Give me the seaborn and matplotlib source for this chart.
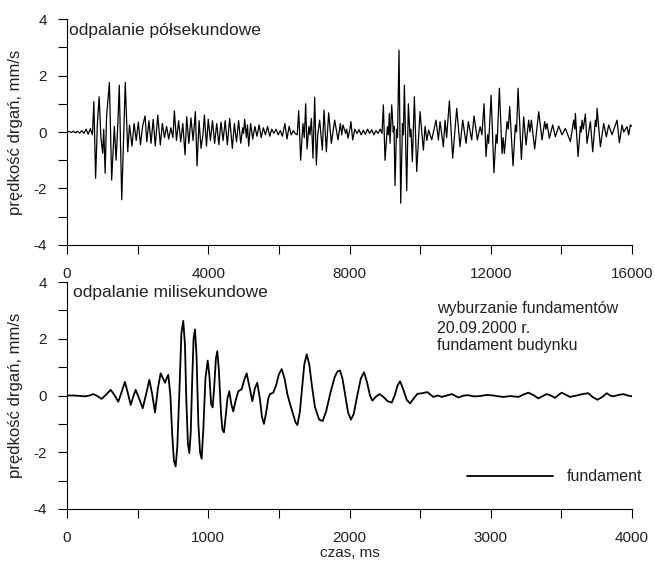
import matplotlib
matplotlib.use("Agg")
import matplotlib.pyplot as plt
from matplotlib.ticker import MultipleLocator
import seaborn as sns

# half-second firing, time in ms and velocity in mm/s
czas_pol = [0, 60, 120, 180, 240, 300, 360, 420, 480, 540, 600, 660, 720,
            760, 810, 860, 910, 960, 1010, 1040, 1080, 1120, 1200, 1265, 1340, 1390,
            1440, 1480, 1550, 1650, 1720, 1770, 1840,
            1900, 1960, 2020, 2080, 2140, 2210, 2260, 2320, 2380, 2440, 2500, 2570,
            2643, 2700, 2760, 2820, 2880, 2940, 3000, 3040, 3100, 3160, 3220, 3280,
            3342, 3390, 3450, 3510, 3570, 3635, 3682, 3740, 3795, 3850, 3890, 3950,
            4000, 4060,
            4120, 4180, 4240, 4300, 4360, 4420, 4480, 4540, 4607, 4682, 4740, 4800,
            4860, 4920, 4975, 5000, 5031, 5080, 5110, 5145, 5200,
            5260, 5320, 5380, 5440, 5500, 5560, 5620, 5680, 5740, 5800, 5860, 5920,
            5980, 6040, 6100, 6170, 6230, 6290, 6350, 6410, 6460, 6520,
            6561, 6617, 6680, 6720, 6759, 6797, 6850, 6880, 6920, 6967, 7014, 7061,
            7100, 7155, 7231, 7278, 7344, 7410, 7486, 7580, 7675, 7740, 7780, 7816,
            7890, 7920, 7958, 8010, 8040, 8090,
            8150, 8210, 8270, 8330, 8390, 8450, 8510, 8570, 8630, 8690, 8750, 8810,
            8870, 8920, 8959, 9006, 9072, 9100, 9129, 9148, 9195, 9240, 9260, 9289,
            9330, 9360, 9402, 9450, 9500, 9525, 9554, 9620, 9667, 9714, 9740, 9780,
            9837, 9903, 9997, 10092, 10140, 10190, 10240, 10328, 10450, 10517, 10564,
            10658, 10705, 10750, 10828, 10922, 11036, 11130, 11206, 11300, 11366,
            11460, 11527, 11621, 11700, 11750, 11810, 11866, 11910, 11940, 12010,
            12090, 12150, 12180, 12244, 12319, 12350, 12385, 12461, 12495, 12536,
            12631, 12697, 12730, 12773, 12867, 12933, 12999, 13074, 13110, 13150,
            13244, 13358, 13452, 13527, 13560, 13594, 13660, 13754, 13830, 13924,
            14018, 14113, 14254, 14349, 14380, 14396, 14472, 14538, 14560, 14585,
            14620, 14679, 14726, 14821, 14887, 14962, 14990, 15010, 15104, 15198,
            15274, 15340, 15434, 15576, 15642, 15718, 15765, 15859, 15906, 15953,
            16000]
v_pol = [0.0, 0.02, -0.02, 0.03, -0.03, 0.02, -0.04, 0.05, -0.05, 0.1, -0.08, 0.12, -0.1,
         1.07, -1.64, 0.3, 1.25, -0.2, -0.75, 0.1, -1.46, 0.54, 1.75, -1.7, 0.2, -1.0,
         0.3, 1.66, -2.4, 1.75, -0.7, 0.25, -0.5,
         0.3, -0.3, 0.35, -0.45, 0.2, 0.57, -0.35, 0.4, -0.4, 0.45, -0.5, 0.6,
         -0.46, 0.3, -0.2, 0.2, -0.25, 0.15, -0.2, 0.75, -0.3, 0.4, -0.35, 0.3,
         -0.81, 0.54, -0.4, 0.5, -0.3, 0.72, -1.2, 0.4, -0.58, -0.1, 0.6, -0.5,
         0.45, -0.3,
         0.4, -0.4, 0.3, -0.45, 0.35, -0.3, 0.4, -0.45, 0.48, -0.58, 0.3, -0.35,
         0.4, -0.4, 0.15, -0.05, 0.45, -0.2, 0.25, -0.5, 0.3,
         -0.25, 0.2, -0.15, 0.25, -0.2, 0.15, -0.1, 0.2, -0.15, 0.1, -0.05, 0.1,
         -0.1, 0.05, -0.15, 0.3, -0.25, 0.2, -0.1, 0.05, -0.05, -0.1,
         0.75, -1.0, 0.3, -0.2, 1.0, -0.6, 0.2, -0.1, 0.48, -0.93, 1.23, -1.17,
         -0.1, 0.42, -0.64, 0.78, -0.7, 0.68, -0.4, 0.42, -0.28, 0.3, -0.1, 0.25,
         -0.05, 0.1, -0.22, 0.1, 0.37, -0.28,
         0.1, -0.05, 0.08, -0.1, 0.06, -0.08, 0.1, -0.05, 0.08, -0.1, 0.05, -0.05,
         0.1, -0.05, 0.96, -1.0, 0.19, -0.1, 0.66, -0.4, 0.96, 0.0, 0.2, -1.9,
         0.1, -0.2, 2.9, -2.52, 0.3, -0.1, 1.66, -2.08, 1.0, -0.17, 0.1, -1.05,
         1.25, -1.4, 0.72, -0.64, 0.2, -0.3, 0.07, -0.28, 0.42, -0.28, 0.37,
         -0.52, 0.42, -0.2, 1.1, -0.93, 0.84, -0.52, 0.42, -0.4, 0.37,
         -0.28, 0.57, -0.28, 0.19, -0.1, 1.0, -0.87, -0.1, -0.4, 1.3,
         -1.44, -0.1, -0.4, 1.55, -0.76, -0.2, -0.76, 0.37, 0.1, 0.9,
         -1.2, 0.25, 0.0, 1.55, -0.97, 0.54, -0.46, 0.42, 0.0, 0.42,
         -0.6, 0.72, -0.28, 0.37, 0.1, 0.3, -0.22, 0.25, -0.17, 0.21,
         -0.1, 0.13, -0.34, 0.42, 0.1, 0.66, -0.87, 0.19, 0.0, 0.42,
         0.1, 0.64, -0.4, 0.37, -0.7, 0.42, 0.2, 0.84, -0.52, 0.3,
         -0.17, 0.25, -0.1, 0.42, -0.38, 0.25, 0.0, 0.19, -0.1, 0.25,
         0.2]

# millisecond firing
czas_mili = [0, 50, 100, 130, 160, 186, 215, 245, 275, 309, 335, 363, 385, 410, 430,
             451, 468, 486, 510, 536, 560, 583, 603, 623, 645, 663, 680, 694, 705,
             717, 732, 745, 757, 769, 781, 796, 810, 823, 835, 845, 856, 866, 876,
             886, 896, 906, 917, 930, 942, 953, 965, 980, 996, 1008, 1020, 1031,
             1042, 1054, 1064, 1075, 1090, 1100, 1111, 1122, 1136, 1149, 1163, 1177,
             1195, 1213, 1236, 1255, 1272, 1290, 1312, 1330, 1347, 1365, 1380, 1394,
             1410, 1425, 1437, 1460, 1480, 1500, 1520, 1540, 1560, 1579, 1600, 1618,
             1631, 1648, 1665, 1680, 1697, 1715, 1735, 1755, 1785, 1810, 1835, 1865,
             1895, 1915, 1933, 1950, 1970, 1990, 2010, 2030, 2055, 2080, 2103, 2125,
             2145, 2162, 2185, 2212, 2240, 2270, 2299, 2320, 2340, 2358, 2378, 2405,
             2429, 2455, 2481, 2515, 2551, 2594, 2625, 2653, 2690, 2724, 2771, 2810,
             2842, 2880, 2924, 2970, 3019, 3055, 3090, 3140, 3196, 3230, 3266, 3300,
             3337, 3365, 3396, 3425, 3455, 3480, 3502, 3530, 3561, 3600, 3632, 3660,
             3691, 3720, 3755, 3790, 3821, 3845, 3868, 3905, 3939, 3970, 3998]
v_mili = [0.0, 0.0, -0.02, -0.03, 0.0, 0.05, -0.02, -0.12, 0.02, 0.2, 0.02, -0.22,
          0.1, 0.48, 0.1, -0.33, -0.05, 0.2, -0.1, -0.45, 0.05, 0.55, 0.05, -0.6,
          0.3, 0.78, 0.6, 0.45, 0.6, 0.73, 0.0, -1.4, -2.3, -2.5, -1.8, 0.2, 2.2,
          2.63, 1.8, -0.2, -1.7, -2.03, -1.3, 0.5, 2.0, 2.33, 1.4, -1.0, -2.0,
          -2.23, -1.2, 0.6, 1.23, 0.7, -0.3, -0.42, 0.3, 1.3, 1.56, 0.9, -0.6,
          -1.2, -1.3, -0.8, -0.1, 0.15, -0.3, -0.56, -0.15, 0.15, 0.22, 0.55, 0.78,
          0.35, -0.2, 0.25, 0.45, -0.1, -0.75, -1.0, -0.6, -0.1, 0.05, 0.1, 0.35,
          0.75, 0.93, 0.6, 0.05, -0.3, -0.65, -0.95, -1.04, -0.6, 0.3, 1.1, 1.45,
          1.1, 0.3, -0.4, -0.85, -0.9, -0.55, 0.1, 0.65, 0.85, 0.88, 0.6, 0.0,
          -0.6, -0.85, -0.65, 0.0, 0.6, 0.82, 0.45, 0.0, -0.18, -0.05, 0.05, -0.05,
          -0.2, -0.25, 0.0, 0.35, 0.5, 0.25, -0.15, -0.28, -0.1, 0.06, 0.08, 0.12,
          -0.05, 0.0, -0.05, 0.0, 0.05, -0.07, 0.0, 0.01, -0.03, -0.02, 0.02, 0.0,
          -0.03, -0.05, -0.02, -0.05, 0.03, 0.1, 0.02, -0.1, -0.03, 0.05, 0.0,
          -0.08, 0.02, 0.1, 0.03, -0.05, -0.01, 0.03, 0.06, 0.08, -0.05, -0.15,
          -0.05, 0.08, 0.0, -0.03, 0.02, 0.05, 0.0, -0.03]

y_label = "prędkość drgań, mm/s"
text_color = "#222222"

sns.set_style("ticks")
plt.rcParams["font.family"] = ["Liberation Sans", "DejaVu Sans"]
plt.rcParams["axes.unicode_minus"] = False


def style_axis(axis, xmax, xmajor, xminor):
    axis.set_xlim(0, xmax)
    axis.set_ylim(-4, 4)
    axis.xaxis.set_major_locator(MultipleLocator(xmajor))
    axis.xaxis.set_minor_locator(MultipleLocator(xminor))
    axis.yaxis.set_major_locator(MultipleLocator(2))
    axis.yaxis.set_minor_locator(MultipleLocator(1))
    axis.tick_params(which="both", direction="out", length=6.5, width=0.8,
                     color="black", labelcolor=text_color, labelsize=11)
    axis.tick_params(axis="x", pad=9)
    axis.tick_params(axis="y", pad=8)
    sns.despine(ax=axis)
    for side in ("left", "bottom"):
        axis.spines[side].set_linewidth(0.8)
        axis.spines[side].set_color("black")
    axis.set_ylabel(y_label, fontsize=12, color=text_color)
    axis.yaxis.set_label_coords(-0.078, 0.5)


fig = plt.figure(figsize=(6.55, 5.61), dpi=100)
ax_top = fig.add_axes([0.1023, 0.5633, 0.8626, 0.4028])
ax_bot = fig.add_axes([0.1023, 0.0927, 0.8626, 0.4046])

sns.lineplot(x=czas_pol, y=v_pol, color="black", linewidth=0.9, ax=ax_top, legend=False)
style_axis(ax_top, 16000, 4000, 2000)
ax_top.set_xlabel("")
ax_top.text(0.004, 0.951, "odpalanie półsekundowe", transform=ax_top.transAxes,
            fontsize=12.5, va="center", color=text_color)

sns.lineplot(x=czas_mili, y=v_mili, color="black", linewidth=1.3, ax=ax_bot,
             label="fundament")
style_axis(ax_bot, 4000, 1000, 500)
ax_bot.set_xlabel("czas, ms", fontsize=11, color=text_color)
ax_bot.xaxis.set_label_coords(0.5, -0.162)
ax_bot.text(0.01, 0.952, "odpalanie milisekundowe", transform=ax_bot.transAxes,
            fontsize=12.5, va="center", color=text_color)
for line_text, y_pos in [("wyburzanie fundamentów", 0.885), ("20.09.2000 r.", 0.797),
                         ("fundament budynku", 0.722)]:
    ax_bot.text(0.655, y_pos, line_text, transform=ax_bot.transAxes, fontsize=11.5,
                va="center", color=text_color)
ax_bot.legend(loc="center left", bbox_to_anchor=(0.708, 0.141), frameon=False,
              fontsize=11.5, handlelength=5.4, handletextpad=0.85, borderpad=0,
              borderaxespad=0, labelcolor=text_color)

fig.savefig("out.png", dpi=100)
plt.close(fig)
